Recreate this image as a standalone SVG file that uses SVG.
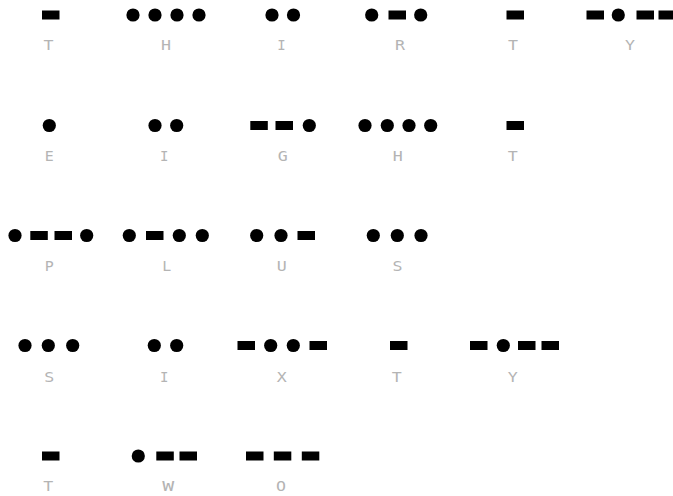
<svg xmlns="http://www.w3.org/2000/svg" width="673" height="496" viewBox="0 0 673 496">
<style>
.dot{fill:#000}
.dash{fill:#000}
.lbl{font-family:"DejaVu Sans Mono","Liberation Mono",monospace;font-size:14px;fill:#b4b4b4;text-anchor:middle}
</style>
<defs>
<circle id="d" r="6.6" class="dot"/>
<rect id="h" width="17.5" height="9" class="dash"/>
</defs>
<rect width="673" height="496" fill="#fff"/>
<!-- Row 1 -->
<g id="r1-T"><use href="#h" x="42" y="10.5"/><text class="lbl" x="48.5" y="50" textLength="10" lengthAdjust="spacingAndGlyphs">T</text></g>
<g id="r1-H"><use href="#d" x="133" y="15"/><use href="#d" x="155" y="15"/><use href="#d" x="177" y="15"/><use href="#d" x="199" y="15"/><text class="lbl" x="166" y="50" textLength="10" lengthAdjust="spacingAndGlyphs">H</text></g>
<g id="r1-I"><use href="#d" x="272" y="15"/><use href="#d" x="293.5" y="15"/><text class="lbl" x="281.5" y="50">I</text></g>
<g id="r1-R"><use href="#d" x="371.7" y="15"/><use href="#h" x="388.5" y="10.5"/><use href="#d" x="420.7" y="15"/><text class="lbl" x="400" y="50" textLength="10" lengthAdjust="spacingAndGlyphs">R</text></g>
<g id="r1-T2"><use href="#h" x="506.5" y="10.5"/><text class="lbl" x="513" y="50" textLength="10" lengthAdjust="spacingAndGlyphs">T</text></g>
<g id="r1-Y"><use href="#h" x="586.5" y="10.5"/><use href="#d" x="618.3" y="15"/><use href="#h" x="636.5" y="10.5"/><use href="#h" x="658.5" y="10.5"/><text class="lbl" x="630" y="50" textLength="10" lengthAdjust="spacingAndGlyphs">Y</text></g>
<!-- Row 2 -->
<g id="r2-E"><use href="#d" x="49.3" y="125.5"/><text class="lbl" x="49.3" y="161" textLength="9" lengthAdjust="spacingAndGlyphs">E</text></g>
<g id="r2-I"><use href="#d" x="155" y="125.5"/><use href="#d" x="176.7" y="125.5"/><text class="lbl" x="164.3" y="161">I</text></g>
<g id="r2-G"><use href="#h" x="250.3" y="121"/><use href="#h" x="275.5" y="121"/><use href="#d" x="309.3" y="125.5"/><text class="lbl" x="282.7" y="161" textLength="10" lengthAdjust="spacingAndGlyphs">G</text></g>
<g id="r2-H"><use href="#d" x="365" y="125.5"/><use href="#d" x="387.3" y="125.5"/><use href="#d" x="409" y="125.5"/><use href="#d" x="430.7" y="125.5"/><text class="lbl" x="397.7" y="161" textLength="10" lengthAdjust="spacingAndGlyphs">H</text></g>
<g id="r2-T"><use href="#h" x="506.5" y="121"/><text class="lbl" x="512.7" y="161" textLength="10" lengthAdjust="spacingAndGlyphs">T</text></g>
<!-- Row 3 -->
<g id="r3-P"><use href="#d" x="15" y="235.5"/><use href="#h" x="30.3" y="231"/><use href="#h" x="54.5" y="231"/><use href="#d" x="86.7" y="235.5"/><text class="lbl" x="49.3" y="271" textLength="9" lengthAdjust="spacingAndGlyphs">P</text></g>
<g id="r3-L"><use href="#d" x="129.3" y="235.5"/><use href="#h" x="146" y="231"/><use href="#d" x="179.3" y="235.5"/><use href="#d" x="202.3" y="235.5"/><text class="lbl" x="166.7" y="271" textLength="9" lengthAdjust="spacingAndGlyphs">L</text></g>
<g id="r3-U"><use href="#d" x="256.7" y="235.5"/><use href="#d" x="281" y="235.5"/><use href="#h" x="297.5" y="231"/><text class="lbl" x="281.7" y="271" textLength="10" lengthAdjust="spacingAndGlyphs">U</text></g>
<g id="r3-S"><use href="#d" x="373.3" y="235.5"/><use href="#d" x="397.3" y="235.5"/><use href="#d" x="421" y="235.5"/><text class="lbl" x="397.5" y="271" textLength="10" lengthAdjust="spacingAndGlyphs">S</text></g>
<!-- Row 4 -->
<g id="r4-S"><use href="#d" x="25" y="345.5"/><use href="#d" x="48.3" y="345.5"/><use href="#d" x="72.7" y="345.5"/><text class="lbl" x="49.3" y="382" textLength="10" lengthAdjust="spacingAndGlyphs">S</text></g>
<g id="r4-I"><use href="#d" x="154.3" y="345.5"/><use href="#d" x="176.7" y="345.5"/><text class="lbl" x="164.3" y="382">I</text></g>
<g id="r4-X"><use href="#h" x="237.5" y="341"/><use href="#d" x="270.7" y="345.5"/><use href="#d" x="293.3" y="345.5"/><use href="#h" x="309.5" y="341"/><text class="lbl" x="281.7" y="382" textLength="10" lengthAdjust="spacingAndGlyphs">X</text></g>
<g id="r4-T"><use href="#h" x="390" y="341"/><text class="lbl" x="396.7" y="382" textLength="10" lengthAdjust="spacingAndGlyphs">T</text></g>
<g id="r4-Y"><use href="#h" x="470" y="341"/><use href="#d" x="503.3" y="345.5"/><use href="#h" x="518" y="341"/><use href="#h" x="541.5" y="341"/><text class="lbl" x="512.7" y="382" textLength="10" lengthAdjust="spacingAndGlyphs">Y</text></g>
<!-- Row 5 -->
<g id="r5-T"><use href="#h" x="42" y="451.5"/><text class="lbl" x="48.3" y="491" textLength="10" lengthAdjust="spacingAndGlyphs">T</text></g>
<g id="r5-W"><use href="#d" x="138.3" y="456"/><use href="#h" x="156.3" y="451.5"/><use href="#h" x="179.5" y="451.5"/><text class="lbl" x="168.3" y="491" textLength="12" lengthAdjust="spacingAndGlyphs">W</text></g>
<g id="r5-O"><use href="#h" x="246" y="451.5"/><use href="#h" x="273.8" y="451.5"/><use href="#h" x="301.8" y="451.5"/><text class="lbl" x="281" y="491" textLength="10" lengthAdjust="spacingAndGlyphs">O</text></g>
</svg>
